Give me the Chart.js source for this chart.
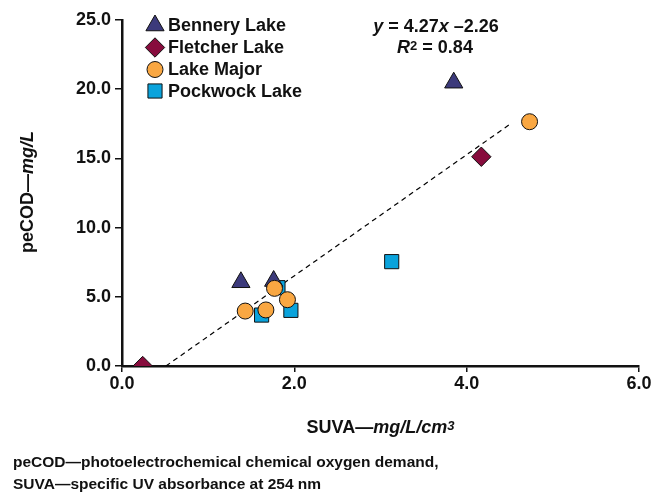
<!DOCTYPE html>
<html><head><meta charset="utf-8">
<script src="https://cdn.jsdelivr.net/npm/chart.js@4.4.1/dist/chart.umd.min.js"></script>
<style>html,body{margin:0;padding:0;background:#fff;} #wrap{width:664px;height:498px;position:relative;}</style>
</head><body><div id="wrap"><canvas id="c" width="664" height="498"></canvas></div>
<script>
// ---- data ----
const seriesNames = ['Bennery Lake', 'Fletcher Lake', 'Lake Major', 'Pockwock Lake'];
const benneryX = [1.38, 1.76, 3.85];
const benneryY = [6.05, 6.14, 20.47];
const fletcherX = [0.24, 4.17];
const fletcherY = [0.0, 15.12];
const majorX = [1.43, 1.67, 1.77, 1.92, 4.73];
const majorY = [3.97, 4.05, 5.61, 4.79, 17.65];
const pockwockX = [1.62, 1.81, 1.96, 3.13];
const pockwockY = [3.68, 5.66, 4.02, 7.54];
const trendX = [0.51, 4.51];
const trendY = [0.0, 17.5];
const xTicks = [0, 2, 4, 6];
const yTicks = [0, 5, 10, 15, 20, 25];
const footnote = ['peCOD—photoelectrochemical chemical oxygen demand,', 'SUVA—specific UV absorbance at 254 nm'];

const FONT = '"Liberation Sans", Arial, Helvetica, sans-serif';
const zip = (xs, ys) => xs.map((x, i) => ({x: x, y: ys[i]}));

const styles = [
  {pointStyle: 'triangle', radius: 10.5, color: '#3c3a7b'},
  {pointStyle: 'rectRot', radius: 9.7, color: '#870c3d'},
  {pointStyle: 'circle', radius: 8, color: '#f9a742'},
  {pointStyle: 'rect', radius: 10, color: '#0aa3dc'}
];
const seriesData = [zip(benneryX, benneryY), zip(fletcherX, fletcherY), zip(majorX, majorY), zip(pockwockX, pockwockY)];
const drawOrder = [2, 3, 1, 4];

const datasets = seriesNames.map((n, i) => ({
  type: 'scatter',
  label: n,
  data: seriesData[i],
  pointStyle: styles[i].pointStyle,
  pointRadius: styles[i].radius,
  pointHoverRadius: styles[i].radius,
  backgroundColor: styles[i].color,
  borderColor: '#111',
  borderWidth: 1,
  order: drawOrder[i]
}));
datasets.push({
  type: 'line',
  label: 'trend',
  data: zip(trendX, trendY),
  borderColor: '#000',
  borderWidth: 1.2,
  borderDash: [5, 4],
  pointRadius: 0,
  fill: false,
  order: 10
});

function drawRuns(ctx, runs, x, y, align, size) {
  const fontFor = r => (r.italic ? 'italic ' : '') + 'bold ' + (r.sup ? Math.round(size * 0.72) : size) + 'px ' + FONT;
  let total = 0;
  runs.forEach(r => { ctx.font = fontFor(r); total += ctx.measureText(r.t).width; });
  let cx = align === 'center' ? x - total / 2 : x;
  ctx.textAlign = 'left';
  ctx.textBaseline = 'middle';
  runs.forEach(r => {
    ctx.font = fontFor(r);
    ctx.fillText(r.t, cx, r.sup ? y - size * 0.1 : y);
    cx += ctx.measureText(r.t).width;
  });
}

function legendSymbol(ctx, st, x, y) {
  ctx.save();
  ctx.fillStyle = st.color;
  ctx.strokeStyle = '#111';
  ctx.lineWidth = 1;
  if (Chart.helpers && Chart.helpers.drawPoint) {
    Chart.helpers.drawPoint(ctx, {pointStyle: st.pointStyle, radius: st.radius, rotation: 0, borderWidth: 1}, x, y);
  }
  ctx.restore();
}

const decor = {
  id: 'decor',
  afterDraw(chart) {
    const ctx = chart.ctx;
    const ca = chart.chartArea;
    ctx.save();
    ctx.fillStyle = '#111';
    // legend
    const rows = [25.5, 47.5, 69.5, 91];
    seriesNames.forEach((n, i) => {
      legendSymbol(ctx, styles[i], 155, rows[i]);
      ctx.fillStyle = '#111';
      ctx.font = 'bold 18px ' + FONT;
      ctx.textAlign = 'left';
      ctx.textBaseline = 'middle';
      ctx.fillText(n, 168, rows[i] + 1);
    });
    // equation
    ctx.fillStyle = '#111';
    drawRuns(ctx, [{t: 'y', italic: true}, {t: ' = 4.27'}, {t: 'x', italic: true}, {t: ' –2.26'}], 436, 27, 'center', 18);
    drawRuns(ctx, [{t: 'R', italic: true}, {t: '2', sup: true}, {t: ' = 0.84'}], 435, 48, 'center', 18);
    // x title
    drawRuns(ctx, [{t: 'SUVA—'}, {t: 'mg/L/cm', italic: true}, {t: '3', italic: true, sup: true}], 380.5, 428, 'center', 18);
    // y title
    ctx.save();
    ctx.translate(28, 192);
    ctx.rotate(-Math.PI / 2);
    drawRuns(ctx, [{t: 'peCOD—'}, {t: 'mg/L', italic: true}], 0, 0, 'center', 18);
    ctx.restore();
    // footnote
    ctx.font = 'bold 15.5px ' + FONT;
    ctx.textAlign = 'left';
    ctx.textBaseline = 'middle';
    ctx.fillText(footnote[0], 13, 463);
    ctx.fillText(footnote[1], 13, 485);
    ctx.restore();
  }
};

new Chart(document.getElementById('c'), {
  data: {datasets: datasets},
  options: {
    responsive: false,
    animation: false,
    events: [],
    layout: {padding: {top: 20, right: 25, left: 0, bottom: 0}},
    plugins: {legend: {display: false}, tooltip: {enabled: false}},
    scales: {
      x: {
        type: 'linear', position: 'bottom', min: 0, max: 6,
        afterBuildTicks: s => { s.ticks = xTicks.map(v => ({value: v})); },
        afterFit: s => { s.height = 132; },
        ticks: {callback: v => Number(v).toFixed(1), color: '#111', font: {family: FONT, size: 18, weight: 'bold'}, padding: 1, maxRotation: 0},
        grid: {display: true, drawOnChartArea: false, drawTicks: true, tickLength: 6, color: '#111', lineWidth: 1.5},
        border: {display: true, color: '#111', width: 2.5}
      },
      y: {
        type: 'linear', position: 'left', min: 0, max: 25,
        afterBuildTicks: s => { s.ticks = yTicks.map(v => ({value: v})); },
        afterFit: s => { s.width = 122; },
        ticks: {callback: v => Number(v).toFixed(1), color: '#111', font: {family: FONT, size: 18, weight: 'bold'}, padding: 4},
        grid: {display: true, drawOnChartArea: false, drawTicks: true, tickLength: 7, color: '#111', lineWidth: 1.5},
        border: {display: true, color: '#111', width: 2.5}
      }
    }
  },
  plugins: [decor]
});
</script>
</body></html>
